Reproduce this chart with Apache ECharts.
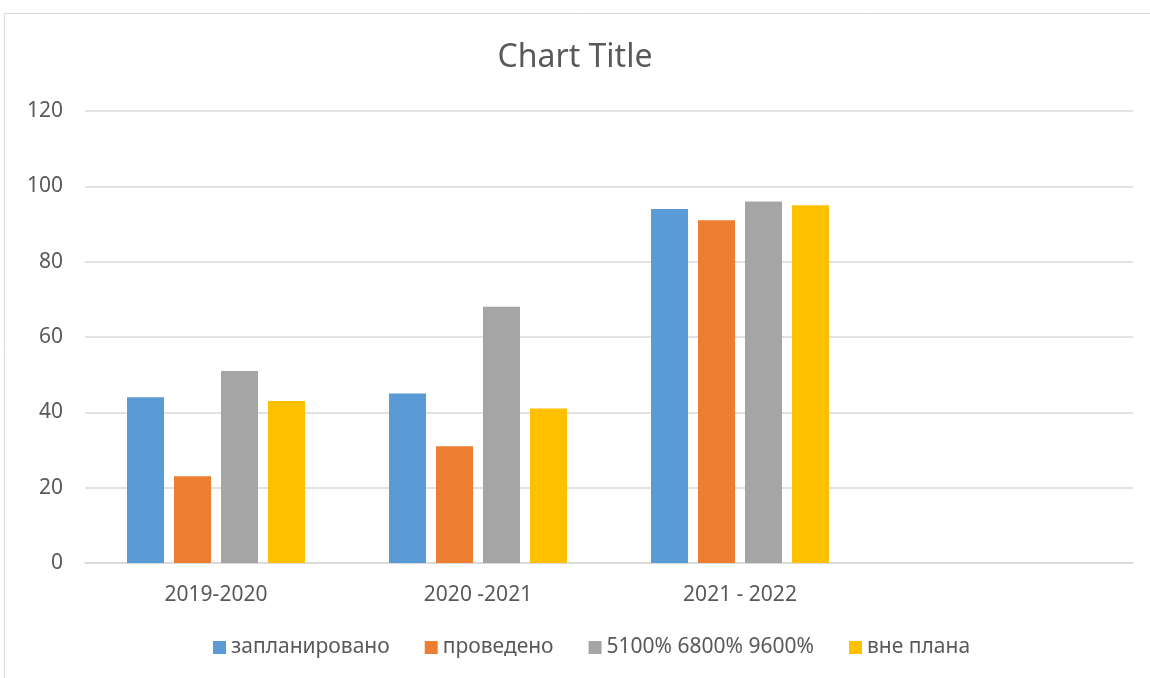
<!DOCTYPE html>
<html>
<head>
<meta charset="utf-8">
<script src="https://cdn.jsdelivr.net/npm/echarts@6/dist/echarts.min.js"></script>
<style>
  html, body { margin: 0; padding: 0; background: #fff; }
  #chart { width: 1150px; height: 678px; }
</style>
</head>
<body>
<div id="chart"></div>
<script>
// categories (the fourth slot is empty in the source chart)
var years = ['2019-2020', '2020 -2021', '2021 - 2022', ''];
var seriesNames = ['запланировано', 'проведено', '5100% 6800% 9600%', 'вне плана'];
var planned = [44, 45, 94, null];
var held = [23, 31, 91, null];
var percentRow = [51, 68, 96, null];
var offPlan = [43, 41, 95, null];
var colors = ['#5b9bd5', '#ed7d31', '#a5a5a5', '#ffc000'];

var textColor = '#595959';
var font = 'Noto Sans';

function bar(name, data, color) {
    return {
        name: name,
        type: 'bar',
        data: data,
        barWidth: 37,
        barGap: '27%',
        itemStyle: { color: color }
    };
}

var myChart = echarts.init(document.getElementById('chart'));
var option = {
    animation: false,
    title: {
        text: 'Chart Title',
        left: 'center',
        top: 37,
        textStyle: { color: textColor, fontSize: 32, fontWeight: 'normal', fontFamily: font }
    },
    graphic: [{
        type: 'rect',
        shape: { x: 4.5, y: 13.5, width: 1200, height: 700 },
        style: { fill: 'none', stroke: '#d9d9d9', lineWidth: 1 },
        silent: true
    }],
    legend: {
        bottom: 15,
        left: 208,
        itemWidth: 13,
        itemHeight: 13,
        itemGap: 35,
        icon: 'rect',
        textStyle: { color: textColor, fontSize: 21, fontFamily: font },
        data: seriesNames
    },
    grid: { left: 85, right: 17, top: 111, bottom: 115 },
    xAxis: {
        type: 'category',
        data: years,
        axisLine: { lineStyle: { color: '#d9d9d9', width: 1.5 } },
        axisTick: { show: false },
        axisLabel: { color: textColor, fontSize: 21, fontFamily: font, margin: 22 }
    },
    yAxis: {
        type: 'value',
        min: 0,
        max: 120,
        interval: 20,
        axisLine: { show: false },
        axisTick: { show: false },
        splitLine: { lineStyle: { color: '#d9d9d9', width: 1.5 } },
        axisLabel: { color: textColor, fontSize: 21, fontFamily: font, margin: 22 }
    },
    series: [
        bar(seriesNames[0], planned, colors[0]),
        bar(seriesNames[1], held, colors[1]),
        bar(seriesNames[2], percentRow, colors[2]),
        bar(seriesNames[3], offPlan, colors[3])
    ]
};
myChart.setOption(option);
</script>
</body>
</html>
